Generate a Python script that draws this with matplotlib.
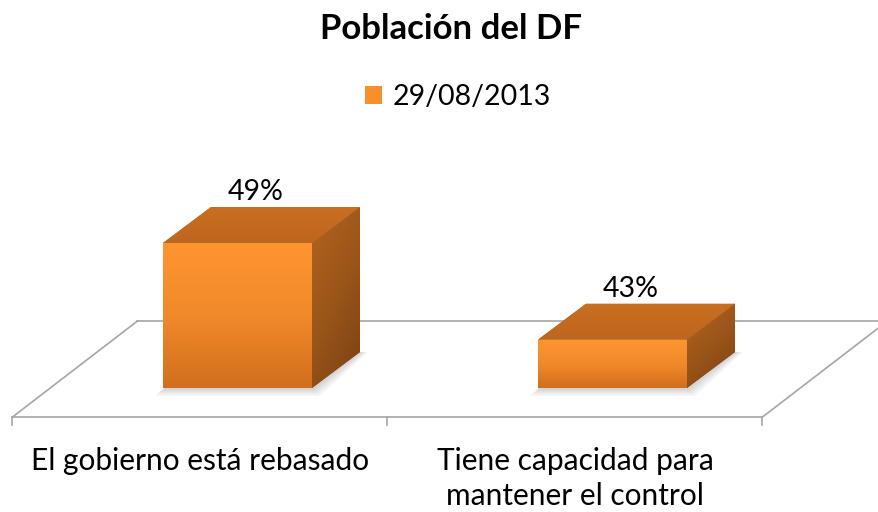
import matplotlib.pyplot as plt
import numpy as np
from matplotlib.patches import Polygon
from matplotlib.colors import LinearSegmentedColormap

title = 'Población del DF'
series_name = '29/08/2013'
categories = ['El gobierno está rebasado', 'Tiene capacidad para\nmantener el control']
values = [49, 43]
value_labels = ['49%', '43%']
y_min = 40

plt.rcParams['font.family'] = ['Lato', 'DejaVu Sans']

# pixel geometry of the fake 3d view
W, H = 879, 512
x0_px, x_step = 237.5, 375.0
y0_px, y_per = 388.0, 145.0 / 9
bar_w = 149 / x_step
dx, dy = 48 / x_step, 36 / y_per
floor_dx, floor_dy = 125 / x_step, 96 / y_per
floor_front = y_min - 29 / y_per
floor_shift = -0.1

fig = plt.figure(figsize=(W / 100, H / 100), dpi=100)
ax = fig.add_axes([0, 0, 1, 1])
ax.axis('off')

x = np.arange(len(values))
grid_c = '#A6A6A6'

# floor
left = -0.5 + floor_shift
right = len(values) - 0.5 + floor_shift
ax.plot([left, right], [floor_front, floor_front], color=grid_c, lw=1.2, zorder=1)
ax.plot([left + floor_dx, right + floor_dx], [floor_front + floor_dy] * 2, color=grid_c, lw=1.2, zorder=1)
ax.plot([left, left + floor_dx], [floor_front, floor_front + floor_dy], color=grid_c, lw=1.2, zorder=1)
ax.plot([right, right + floor_dx], [floor_front, floor_front + floor_dy], color=grid_c, lw=1.2, zorder=1)
for b in np.arange(len(values) + 1) - 0.5 + floor_shift:
    ax.plot([b, b], [floor_front, floor_front - 8 / y_per], color=grid_c, lw=1.2, zorder=1)

front_cmap = LinearSegmentedColormap.from_list('front', ['#D26F1E', '#F08A2A', '#FE952F'])
side_cmap = LinearSegmentedColormap.from_list('side', ['#7A4112', '#9A5519', '#B4641F'])
top_cmap = LinearSegmentedColormap.from_list('top', ['#BD661F', '#C96F22'])

bars = ax.bar(x, np.array(values) - y_min, bottom=y_min, width=bar_w,
              color='#F7902B', edgecolor='none', zorder=4, label=series_name)

for i, (xi, v) in enumerate(zip(x, values)):
    l, r = xi - bar_w / 2, xi + bar_w / 2
    # soft shadow on the floor
    for k in range(1, 6):
        e = k * 1.6 / x_step
        ey = k * 1.6 / y_per
        sh = Polygon([(l - e, y_min - ey), (r + e, y_min - ey),
                      (r + dx + e, y_min + dy), (l + dx, y_min + dy)],
                     closed=True, facecolor='#000000', alpha=0.035, edgecolor='none', zorder=2)
        ax.add_patch(sh)
    # front gradient
    g = np.linspace(0, 1, 100).reshape(-1, 1)
    im = ax.imshow(g, extent=[l, r, y_min, v], origin='lower', cmap=front_cmap,
                   aspect='auto', zorder=4.1)
    im.set_clip_path(bars[i])
    # top face
    top = Polygon([(l, v), (r, v), (r + dx, v + dy), (l + dx, v + dy)],
                  closed=True, facecolor='#C46B21', edgecolor='none', zorder=4)
    ax.add_patch(top)
    gt = np.linspace(0, 1, 50).reshape(-1, 1)
    imt = ax.imshow(gt, extent=[l, r + dx, v, v + dy], origin='lower', cmap=top_cmap,
                    aspect='auto', zorder=4.1)
    imt.set_clip_path(top)
    # side face
    side = Polygon([(r, y_min), (r, v), (r + dx, v + dy), (r + dx, y_min + dy)],
                   closed=True, facecolor='#9A5519', edgecolor='none', zorder=4)
    ax.add_patch(side)
    gx, gy = np.meshgrid(np.linspace(0, 1, 60), np.linspace(0, 1, 100))
    gs = 0.65 * gy + 0.35 * (1 - gx)
    ims = ax.imshow(gs, extent=[r, r + dx, y_min, v + dy], origin='lower', cmap=side_cmap,
                    aspect='auto', zorder=4.1, vmin=0, vmax=1)
    ims.set_clip_path(side)
    ax.text(xi + dx * 0.37, v + dy + 2 / y_per, value_labels[i], ha='center', va='bottom',
            fontsize=20.5, color='#000000', zorder=6)

for xi, cat in zip(x, categories):
    ax.text(xi + floor_shift, floor_front - 30 / y_per, cat, ha='center', va='top',
            fontsize=21.5, linespacing=1.3, zorder=6)

ax.set_xlim(-x0_px / x_step, (W - x0_px) / x_step)
ax.set_ylim(y_min - (H - y0_px) / y_per, y_min + y0_px / y_per)

fig.text(0.513, 1 - 29 / H, title, ha='center', va='center', fontsize=25, fontweight='bold')
leg = fig.legend(handles=[bars], loc='center', bbox_to_anchor=(0.521, 1 - 97 / H), frameon=False,
                 fontsize=20.5, handlelength=0.6, handleheight=0.6, handletextpad=0.4)

fig.savefig('out.png', dpi=100)
